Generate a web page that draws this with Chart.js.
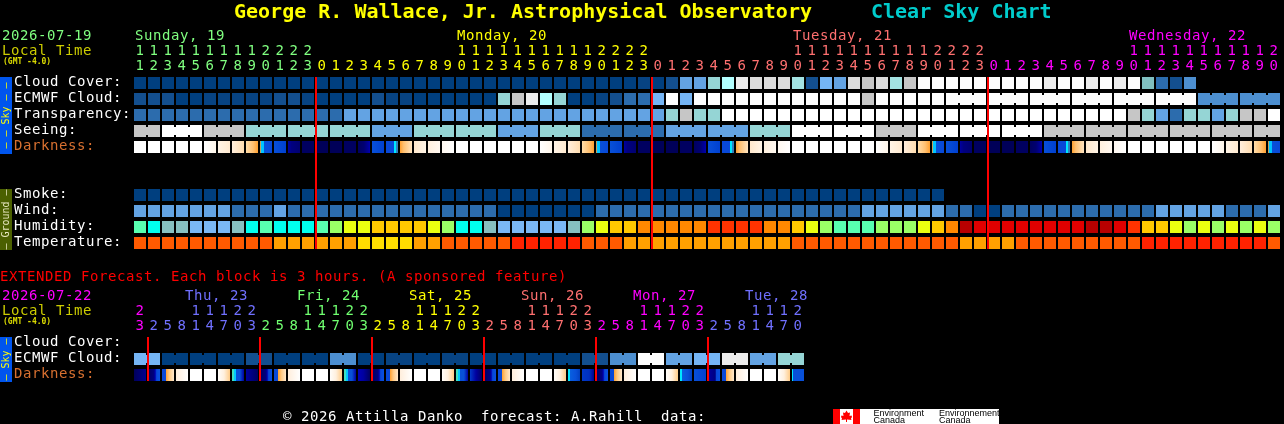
<!DOCTYPE html>
<html><head><meta charset="utf-8">
<style>html,body{margin:0;padding:0;background:#000;overflow:hidden;width:1284px;height:424px}
canvas{position:absolute;left:0;display:block}</style>
<script src="https://cdn.jsdelivr.net/npm/chart.js@4"></script>
</head><body>
<canvas id="main" width="1284" height="262" style="top:0"></canvas>
<canvas id="ext" width="1284" height="162" style="top:262px"></canvas>
<script>
// ---------- data ----------
const mainHours=[11,12,13,14,15,16,17,18,19,20,21,22,23,
0,1,2,3,4,5,6,7,8,9,10,11,12,13,14,15,16,17,18,19,20,21,22,23,
0,1,2,3,4,5,6,7,8,9,10,11,12,13,14,15,16,17,18,19,20,21,22,23,
0,1,2,3,4,5,6,7,8,9,10,11,12,13,14,15,16,17,18,19,20];
const mainRows=["Cloud Cover:","ECMWF Cloud:","Transparency:","Seeing:","Darkness:","","","Smoke:","Wind:","Humidity:","Temperature:"];
const cloudCover=[0,0,0,0,0,0,0,0,0,0,0,0,0,0,0,0,0,0,0,0,0,0,0,0,0,0,0,0,0,0,0,0,0,0,0,0,1,0,2,5,5,8,10,13,12,12,12,9,2,6,5,12,11,12,9,11,14,14,14,14,14,14,14,14,14,13,14,14,13,14,13,14,7,3,2,4];
const ecmwfCloud=[2,2,2,0,0,1,1,1,1,1,2,2,1,0,0,0,0,2,1,1,0,0,0,0,0,0,8,11,13,10,8,0,0,1,2,3,3,6,14,6,14,14,14,14,14,14,14,14,14,14,14,14,11,14,14,14,14,14,14,14,14,14,14,14,14,14,14,14,14,14,14,14,14,14,14,14,4,4,4,4,4,4];
const transparency=[3,3,3,3,3,3,3,3,3,3,3,3,3,3,3,5,5,5,5,5,5,5,5,5,5,5,5,5,5,5,5,5,5,5,5,5,5,5,8,11,8,8,15,15,15,15,15,15,15,15,15,15,15,15,15,15,15,15,15,15,15,15,15,15,15,15,15,15,15,15,15,11,8,5,3,8,8,5,8,11,11,15];
const seeing=[11,11,15,15,15,11,11,11,8,8,8,8,8,8,8,8,8,5,5,5,8,8,8,8,8,8,5,5,5,8,8,8,3,3,3,3,3,3,5,5,5,5,5,5,8,8,8,15,15,15,15,15,15,11,11,11,15,15,15,15,15,15,15,15,15,11,11,11,11,11,11,11,11,11,11,11,11,11,11,11,11,11];
const seeingBlockStarts=[0,2,5,8,11,14,17,20,23,26,29,32,35,38,41,44,47,50,53,56,59,62,65,68,71,74,77,80];
const ecmwfBlockStarts=[58,61,64,67,70,73,76,79];
const darkness=["W","W","W","W","W","e1","e2","e3","O","C","B","N1","N2","N3","N3","N2","N4","B","D","R","m3","m2","m1","W","W","W","W","W","W","e1","e2","e3","O","C","B","N1","N2","N3","N3","N2","N4","B","D","R","m3","m2","m1","W","W","W","W","W","W","e1","e2","e3","O","C","B","N1","N2","N3","N3","N2","N4","B","D","R","m3","m2","m1","W","W","W","W","W","W","e1","e2","e3","O","C"];
const smoke=[0,0,0,0,0,0,0,0,0,0,0,0,0,0,0,0,0,0,0,0,0,0,0,0,0,0,0,0,0,0,0,0,0,0,0,0,0,0,0,0,0,0,0,0,0,0,0,0,0,0,0,0,0,0,0,0,0,0];
const wind=[5,5,5,5,5,5,5,3,3,3,5,3,3,3,3,3,3,3,3,3,3,3,3,3,3,3,0,0,0,0,0,0,0,3,3,3,3,3,3,3,3,3,3,3,3,3,3,3,3,3,3,3,5,5,5,5,5,5,3,3,0,0,3,3,3,3,3,3,3,3,3,3,3,5,5,5,5,5,3,3,3,5];
const humidity=["a","b","c","c","d","d","d","c","b","a","b","b","b","a","e","f","f","g","g","g","g","f","e","b","b","c","d","d","d","d","d","c","e","f","g","g","h","h","h","h","h","i","i","i","i","h","h","g","f","e","a","a","a","e","e","e","f","g","h","k","j","j","j","j","j","j","j","j","k","k","j","i","g","g","f","e","f","e","f","e","f","e"];
const temperature=[1,1,1,1,1,1,1,1,1,1,2,2,2,2,2,2,3,3,3,3,2,2,1,1,1,1,1,0,0,0,0,0,1,1,1,2,2,2,2,2,2,2,2,2,2,2,2,1,1,1,1,1,1,1,1,1,1,1,1,2,2,2,2,1,1,1,1,1,1,1,1,1,0,0,0,0,0,0,0,0,0,1];

const extHours=[23,2,5,8,11,14,17,20,23,2,5,8,11,14,17,20,23,2,5,8,11,14,17,20,23,2,5,8,11,14,17,20,23,2,5,8,11,14,17,20,23,2,5,8,11,14,17,20];
const extRows=["Cloud Cover:","ECMWF Cloud:","Darkness:"];
const extEcmwf=[6,6,0,0,0,0,0,0,2,2,0,0,0,0,4,4,0,0,1,1,0,0,1,1,0,0,0,0,0,0,0,0,2,2,4,4,14,14,5,5,6,6,13,13,5,5,8,8];
const extDarkness=["e0","n1","M","c","W","W","p","q","o1","n1","M","c","W","W","p","q","o2","n1","M","c","W","W","p","q","o3","n1","M","c","W","W","p","q2","o4","n1","M","c","W","W","p","q2","B","n2","M","c","W","W","p","q3"];
const extEcmwfBlockStarts=[0,2,4,6,8,10,12,14,16,18,20,22,24,26,28,30,32,34,36,38,40,42,44,46];

const mainDays=[{start:0,labelAt:0,name:"Sunday, 19",color:"#80FF80"},{start:13,labelAt:23,name:"Monday, 20",color:"#FFFF00"},{start:37,labelAt:47,name:"Tuesday, 21",color:"#FF7070"},{start:61,labelAt:71,name:"Wednesday, 22",color:"#FF00FF"}];
const extDays=[{start:0,name:"",color:"#FF00FF"},{start:1,name:"Thu, 23",color:"#7070FF"},{start:9,name:"Fri, 24",color:"#70FF70"},{start:17,name:"Sat, 25",color:"#FFFF00"},{start:25,name:"Sun, 26",color:"#FF7070"},{start:33,name:"Mon, 27",color:"#FF00FF"},{start:41,name:"Tue, 28",color:"#7070FF"}];
const mainMidnights=[13,37,61];
const extMidnights=[1,9,17,25,33,41];

// ---------- styles ----------
const skyColors=["#003F7F","#074382","#134F8F","#2C6CAD","#4D8FD0","#63A3E3","#75B5F5","#80C0C0","#95D5D5","#A3E3E3","#B2FFFF","#C6C6C6","#DCDCDC","#ECECEC","#FDFDFD","#FFFFFF"];
const humidityColors={a:"#58FFB0",b:"#00FFEE",c:"#86C0C0",d:"#7AB8F5",e:"#9AFF66",f:"#EAFF10",g:"#FFC800",h:"#FF8800",i:"#FF3300",j:"#E00000",k:"#B80000"};
const tempColors=["#FF2200","#FF5A00","#FFA000","#FFDD00"];
const darkStops={
 W:[[0,"#FFFFFF"],[1,"#FFFFFF"]],
 e1:[[0,"#FFFFFF"],[1,"#FFF6EA"]],
 e2:[[0,"#FFF4E6"],[1,"#FFEAD0"]],
 e3:[[0,"#FFEEDC"],[1,"#FFDDB0"]],
 O:[[0,"#FFDCA8"],[.6,"#FFC070"],[1,"#FFA030"]],
 C:[[0,"#C0A060"],[.1,"#C0A060"],[.11,"#00C8FF"],[.33,"#00C0FF"],[.34,"#0850D8"],[1,"#0848D8"]],
 B:[[0,"#0850D8"],[1,"#0040D0"]],
 N1:[[0,"#0000A0"],[.3,"#000080"],[1,"#000070"]],
 N2:[[0,"#000060"],[1,"#000060"]],
 N3:[[0,"#000058"],[1,"#000058"]],
 N4:[[0,"#000060"],[.5,"#000070"],[.85,"#00009A"],[1,"#0000B0"]],
 D:[[0,"#0848D8"],[.66,"#0848D8"],[.67,"#00E8FF"],[.83,"#00E8FF"],[.84,"#3080C0"],[1,"#3080C0"]],
 R:[[0,"#FFA030"],[.3,"#FFC070"],[1,"#FFE4C0"]],
 m3:[[0,"#FFE8CC"],[1,"#FFF4E6"]],
 m2:[[0,"#FFF0DE"],[1,"#FFF8F0"]],
 m1:[[0,"#FFF8F0"],[1,"#FFFFFF"]],
 e0:[[0,"#00005C"],[1,"#000090"]],
 n1:[[0,"#000060"],[.5,"#000080"],[.6,"#0000B0"],[.72,"#0848D8"],[1,"#0850E0"]],
 n2:[[0,"#0000A0"],[.6,"#000080"],[.7,"#0848D8"],[1,"#0850E0"]],
 M:[[0,"#0848D8"],[.3,"#0848D8"],[.33,"#FFA030"],[.6,"#FFC880"],[1,"#FFE8CC"]],
 c:[[0,"#FFEEDC"],[1,"#FFFFFF"]],
 p:[[0,"#FFFDFA"],[.5,"#FFF0DE"],[1,"#FFCC88"]],
 q:[[0,"#40E0C0"],[.16,"#40E0C0"],[.17,"#00C8FF"],[.33,"#00C8FF"],[.34,"#0850D8"],[.66,"#0850D8"],[1,"#0000A0"]],
 q2:[[0,"#00E8FF"],[.16,"#00E8FF"],[.17,"#0860E0"],[.66,"#0850D8"],[1,"#0040C0"]],
 q3:[[0,"#00E8FF"],[.08,"#00E8FF"],[.09,"#0850D8"],[1,"#0850D8"]],
 o1:[[0,"#0000A0"],[.5,"#000080"],[1,"#000060"]],
 o2:[[0,"#0000B8"],[.45,"#0000A0"],[1,"#000060"]],
 o3:[[0,"#0038C8"],[.5,"#0000A0"],[1,"#000060"]],
 o4:[[0,"#0038C8"],[.6,"#0030C0"],[1,"#000090"]]
};
const FONT="'DejaVu Sans Mono'";
const SPACING='0.57px';
const TICK_FONT={family:FONT,size:14,lineHeight:"15px"};

function darkFill(code){
  return function(ctx){
    const chart=ctx.chart, s=chart.scales.x;
    const stops=darkStops[code[ctx.dataIndex]]||darkStops.W;
    const cx=s?s.getPixelForValue(ctx.dataIndex):NaN;
    if(!Number.isFinite(cx)) return stops[0][1];
    const g=chart.ctx.createLinearGradient(cx-6,0,cx+6,0);
    stops.forEach(p=>g.addColorStop(p[0],p[1]));
    return g;
  };
}
function rowSet(row,values,fill){
  return {data:values.map(()=>[row-0.375,row+0.375]),backgroundColor:fill,grouped:false,
    barPercentage:12/14,categoryPercentage:1,inflateAmount:0,borderWidth:0};
}
const bridgePlugin={id:'blockBridges',afterDatasetsDraw(chart,args,opts){
  const c=chart.ctx;
  (opts.items||[]).forEach(it=>{
    const meta=chart.getDatasetMeta(it.dataset);
    for(let i=it.first;i<it.last;i++){
      if(it.starts.includes(i+1)) continue;
      const a=meta.data[i], b=meta.data[i+1]; if(!a||!b) continue;
      const top=Math.min(a.y,a.base);
      c.fillStyle=it.color(it.values[i]);
      c.fillRect(a.x+a.width/2,top+2,b.x-b.width/2-(a.x+a.width/2),Math.abs(a.base-a.y)-4);
    }
  });
}};
const midnightPlugin={id:'midnightLines',afterDraw(chart,args,opts){
  const c=chart.ctx,x=chart.scales.x,y=chart.scales.y;
  c.fillStyle='#FF0000';
  (opts.at||[]).forEach(i=>{
    const px=Math.round(x.getPixelForValue(i)-7);
    const t=y.getPixelForValue(opts.rowFirst-0.375),b=y.getPixelForValue(opts.rowLast+0.375);
    c.fillRect(px,t,2,b-t);
  });
}};
const textPlugin={id:'pageText',
 beforeDraw(chart){ chart.ctx.letterSpacing=SPACING; },
 afterDraw(chart,args,opts){
  const c=chart.ctx; c.save();
  (opts.bars||[]).forEach(b=>{
    c.fillStyle=b.bg; c.fillRect(b.x,b.y,b.w,b.h);
    c.save(); c.translate(b.x+b.w/2,b.y+b.h/2); c.rotate(-Math.PI/2);
    c.letterSpacing='0px';
    c.fillStyle=b.color; c.font="10px "+FONT; c.textAlign='center'; c.textBaseline='middle';
    c.fillText(b.text,0,0); c.restore();
  });
  c.textAlign='left'; c.textBaseline='alphabetic';
  (opts.items||[]).forEach(t=>{
    c.letterSpacing=t.font?'0px':SPACING;
    c.font=t.font||("14px "+FONT); c.fillStyle=t.color; c.fillText(t.text,t.x,t.y);
  });
  c.letterSpacing='0px';
  if(opts.logo) drawLogo(c);
  c.restore();
}};
function drawLogo(c){
  const y=147,h=15;
  c.fillStyle='#FFFFFF'; c.fillRect(833,y,166,h);
  c.fillStyle='#FF0000'; c.fillRect(833,y,7,h); c.fillRect(853,y,7,h);
  c.beginPath();
  [[846.5,y+1.5],[848,y+4],[850,y+3.5],[849.5,y+7],[851.5,y+6.5],[852,y+8],[851,y+9.5],[851.5,y+11],[847,y+10.5],[847,y+13],[846,y+13],[846,y+10.5],[841.5,y+11],[842,y+9.5],[841,y+8],[841.5,y+6.5],[843.5,y+7],[843,y+3.5],[845,y+4]]
   .forEach((p,i)=>i?c.lineTo(p[0],p[1]):c.moveTo(p[0],p[1]));
  c.closePath(); c.fill();
  c.fillStyle='#000'; c.font="9px 'Liberation Sans'";
  c.fillText("Environment",873.5,y+7); c.fillText("Canada",873.5,y+14);
  c.fillText("Environnement",939,y+7); c.fillText("Canada",939,y+14);
}
function hourLabel(h){return h<10?["",String(h)]:[String(Math.floor(h/10)),String(h%10)];}
function dayColor(days,i){let col=days[0].color;days.forEach(d=>{if(i>=d.start)col=d.color;});return col;}

function build(id,hours,days,rows,datasets,bridges,midnights,rowFirst,rowLast,padding,axisH,textOpts){
  return new Chart(document.getElementById(id),{
    type:'bar',
    data:{labels:hours.map(hourLabel),datasets},
    plugins:[bridgePlugin,midnightPlugin,textPlugin],
    options:{
      responsive:false,animation:false,devicePixelRatio:1,
      layout:{padding},
      events:[],
      plugins:{legend:{display:false},tooltip:{enabled:false},title:{display:false},
        blockBridges:{items:bridges},
        midnightLines:{at:midnights,rowFirst,rowLast},
        pageText:textOpts},
      scales:{
        x:{type:'category',position:'top',offset:true,
          grid:{display:false,drawTicks:false},border:{display:false},
          afterFit(s){s.height=axisH;},
          ticks:{autoSkip:false,maxRotation:0,minRotation:0,padding:1,font:TICK_FONT,
            color:c=>dayColor(days,c.index)}},
        y:{type:'linear',reverse:true,min:-0.5,max:rows.length-0.5,
          grid:{display:false,drawTicks:false},border:{display:false},
          afterFit(s){s.width=119;},
          afterBuildTicks(s){s.ticks=rows.map((_,i)=>({value:i}));},
          ticks:{autoSkip:false,crossAlign:'far',padding:0,labelOffset:-1,font:TICK_FONT,
            callback:v=>rows[v],
            color:c=>rows[c.tick.value]==="Darkness:"?"#D87030":"#FFFFFF"}}
      }
    }
  });
}
const skyFill=v=>skyColors[v];
const mainSets=[
  rowSet(0,cloudCover,cloudCover.map(skyFill)),
  rowSet(1,ecmwfCloud,ecmwfCloud.map(skyFill)),
  rowSet(2,transparency,transparency.map(skyFill)),
  rowSet(3,seeing,seeing.map(skyFill)),
  rowSet(4,darkness,darkFill(darkness)),
  rowSet(7,smoke,smoke.map(skyFill)),
  rowSet(8,wind,wind.map(skyFill)),
  rowSet(9,humidity,humidity.map(k=>humidityColors[k])),
  rowSet(10,temperature,temperature.map(k=>tempColors[k]))
];
const mainText={
  bars:[{x:0,y:77,w:12,h:77,bg:"#0055EE",color:"#FFFF00",text:"\u2013 \u2013 Sky \u2013 \u2013"},
        {x:0,y:189,w:12,h:61,bg:"#4B6000",color:"#E8E8C0",text:"\u2013 Ground \u2013"}],
  items:[
    {text:"George R. Wallace, Jr. Astrophysical Observatory",x:234,y:18,color:"#FFFF00",font:"bold 20px "+FONT},
    {text:"Clear Sky Chart",x:871,y:18,color:"#00CCCC",font:"bold 20px "+FONT},
    {text:"2026-07-19",x:2,y:40,color:"#80FF80"},
    {text:"Local Time",x:2,y:55,color:"#CCCC00"},
    {text:"(GMT -4.0)",x:3,y:64,color:"#DDDD00",font:"bold 8px "+FONT}
  ].concat(mainDays.map(d=>({text:d.name,x:133+14*d.labelAt+2,y:40,color:d.color})))
};
build('main',mainHours,mainDays,mainRows,mainSets,
  [{dataset:3,first:0,last:81,starts:seeingBlockStarts,values:seeing,color:skyFill},
   {dataset:1,first:58,last:81,starts:ecmwfBlockStarts,values:ecmwfCloud,color:skyFill}],
  mainMidnights,0,10,{left:14,right:3,top:0,bottom:11},75,mainText);

const extSets=[
  rowSet(1,extEcmwf,extEcmwf.map(skyFill)),
  rowSet(2,extDarkness,darkFill(extDarkness))
];
const extText={
  bars:[{x:0,y:75,w:12,h:45,bg:"#0055EE",color:"#FFFF00",text:"\u2013 Sky \u2013"}],
  items:[
    {text:"EXTENDED Forecast. Each block is 3 hours. (A sponsored feature)",x:0,y:19,color:"#FF0000"},
    {text:"2026-07-22",x:2,y:38,color:"#FF00FF"},
    {text:"Local Time",x:2,y:53,color:"#CCCC00"},
    {text:"(GMT -4.0)",x:3,y:62,color:"#DDDD00",font:"bold 8px "+FONT},
    {text:"\u00A9 2026 Attilla Danko  forecast: A.Rahill  data:",x:283,y:159,color:"#FFFFFF"}
  ].concat(extDays.filter(d=>d.name).map(d=>({text:d.name,x:133+14*d.start+2+36,y:38,color:d.color}))),
  logo:true
};
build('ext',extHours,extDays,extRows,extSets,
  [{dataset:0,first:0,last:47,starts:extEcmwfBlockStarts,values:extEcmwf,color:skyFill}],
  extMidnights,0,2,{left:14,right:479,top:0,bottom:41},73,extText);
</script>
</body></html>
